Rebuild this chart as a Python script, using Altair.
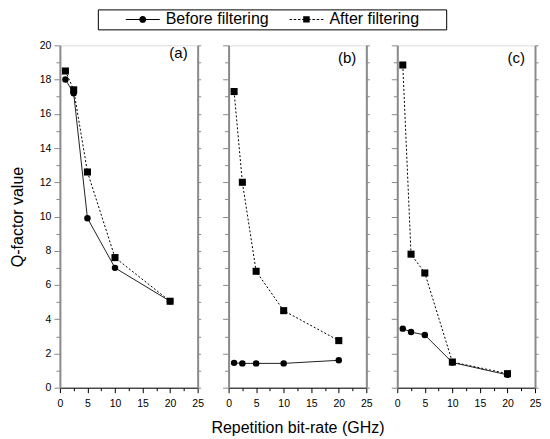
import altair as alt
import pandas as pd

# ---- data ----
rates = [1, 2.5, 5, 10, 20]
panels = ["(a)", "(b)", "(c)"]
series_names = ["Before filtering", "After filtering"]

a_before = [18.0, 17.2, 9.9, 7.0, 5.05]
a_after = [18.5, 17.4, 12.6, 7.6, 5.05]
b_before = [1.45, 1.42, 1.42, 1.42, 1.6]
b_after = [17.3, 12.0, 6.8, 4.5, 2.75]
c_before = [3.45, 3.25, 3.08, 1.47, 0.75]
c_after = [18.85, 7.8, 6.7, 1.5, 0.82]

x_ticks = [0, 2.5, 5, 7.5, 10, 12.5, 15, 17.5, 20, 22.5, 25]
y_ticks = list(range(0, 21))

rows = []
for p, bef, aft in zip(panels, [a_before, b_before, c_before], [a_after, b_after, c_after]):
    for x, v in zip(rates, bef):
        rows.append({"panel": p, "series": series_names[0], "x": x, "y": v})
    for x, v in zip(rates, aft):
        rows.append({"panel": p, "series": series_names[1], "x": x, "y": v})
df = pd.DataFrame(rows)

FONT = "Liberation Sans"
GRAY = "#8a8a8a"
PW, PH = 138, 343


def tiny(xc):
    return f"M{xc},-0.02L{xc + 0.02},-0.02L{xc + 0.02},0.02L{xc},0.02Z"


# legend glyphs (line + marker) as filled shapes, unit = 5px
before_path = ("M-3.4,-0.1L3.4,-0.1L3.4,0.1L-3.4,0.1Z"
               "M0.7,0A0.7,0.7,0,1,1,-0.7,0A0.7,0.7,0,1,1,0.7,0Z")
dash_segs = [(-3.4, -2.9), (-2.55, -2.05), (-1.7, -1.2), (-0.85, -0.6),
             (0.6, 0.85), (1.2, 1.7), (2.05, 2.55), (2.9, 3.4)]
after_path = "".join(
    f"M{a},-0.1L{b},-0.1L{b},0.1L{a},0.1Z" for a, b in dash_segs
) + "M-0.65,-0.65L0.65,-0.65L0.65,0.65L-0.65,0.65Z" + tiny(27.4)

X_AXIS_COMMON = dict(
    values=x_ticks,
    labelExpr="datum.value % 5 === 0 ? datum.label : ''",
    tickSize={"condition": {"test": "datum.value % 5 === 0", "value": 5}, "value": 3},
    grid=False,
    domainColor="black",
    tickColor="black",
    labelFont=FONT,
    labelFontSize=10.5,
    labelColor="black",
    labelPadding=6,
    labelFlush=False,
    titleFont=FONT,
    titleFontSize=16,
    titleFontWeight="normal",
    titleColor="black",
    titlePadding=10,
)


def x_enc(title):
    ax = alt.Axis(title=title if title else None, **X_AXIS_COMMON)
    return alt.X("x:Q", scale=alt.Scale(domain=[0, 25], nice=False, zero=False), axis=ax)


def y_axis(orient, labels, title):
    if orient == "left":
        tsize = {"condition": {"test": "datum.value % 2 === 0", "value": 6}, "value": 4}
    else:
        tsize = 3
    kw = dict(
        orient=orient,
        values=y_ticks,
        labels=labels,
        labelExpr="datum.value % 2 === 0 ? datum.label : ''",
        tickSize=tsize,
        grid=False,
        domainColor=GRAY,
        domainWidth=2,
        tickColor=GRAY,
        labelFont=FONT,
        labelFontSize=10.5,
        labelColor="black",
        labelPadding=3,
        titleFont=FONT,
        titleFontSize=16,
        titleFontWeight="normal",
        titleColor="black",
        titlePadding=14,
    )
    kw["title"] = title if title else None
    return alt.Axis(**kw)


def panel(key, ytitle, xtitle, with_legend):
    base = alt.Chart(df).transform_filter(alt.datum.panel == key)
    yscale = alt.Scale(domain=[0, 20], nice=False, zero=False)
    X = x_enc(xtitle)

    axis_left = base.mark_point(opacity=0).encode(
        x=X,
        y=alt.Y("y:Q", scale=yscale, axis=y_axis("left", ytitle is not None, ytitle)),
    )
    axis_right = base.mark_point(opacity=0).encode(
        x=X,
        y=alt.Y("y:Q", scale=yscale, axis=y_axis("right", False, None)),
    )
    enc = dict(x=X, y=alt.Y("y:Q", scale=yscale, axis=None))
    line_before = base.transform_filter(alt.datum.series == series_names[0]).mark_line(
        color="#222222", strokeWidth=1
    ).encode(**enc)
    line_after = base.transform_filter(alt.datum.series == series_names[1]).mark_line(
        color="black", strokeWidth=1, strokeDash=[2, 2]
    ).encode(**enc)
    pts_after = base.transform_filter(alt.datum.series == series_names[1]).mark_point(
        shape="square", filled=True, size=50, color="black", opacity=1
    ).encode(**enc)
    pts_before = base.transform_filter(alt.datum.series == series_names[0]).mark_point(
        shape="circle", filled=True, size=42, color="black", opacity=1
    ).encode(**enc)

    layers = [axis_left, axis_right, line_after, line_before, pts_after, pts_before]
    if with_legend:
        leg = base.mark_point(filled=True, color="black", opacity=0).encode(
            x=X,
            y=alt.Y("y:Q", scale=yscale, axis=None),
            shape=alt.Shape(
                "series:N",
                scale=alt.Scale(domain=series_names, range=[before_path, after_path]),
                legend=alt.Legend(
                    title="\u00a0",
                    titleOrient="left",
                    titlePadding=35,
                    titleFont=FONT,
                    titleFontSize=16,
                    orient="none",
                    legendX=38,
                    legendY=-36,
                    direction="horizontal",
                    columns=2,
                    columnPadding=20,
                    symbolSize=100,
                    symbolOpacity=1,
                    symbolFillColor="black",
                    symbolStrokeWidth=0,
                    labelOffset=15,
                    labelFont=FONT,
                    labelFontSize=16,
                    labelColor="black",
                    labelLimit=300,
                    padding=2,
                    strokeColor="black",
                    fillColor="white",
                ),
            ),
        )
        layers.append(leg)

    return alt.layer(*layers).resolve_axis(y="independent").properties(
        width=PW,
        height=PH,
        title=alt.TitleParams(
            text=key,
            anchor="end",
            frame="group",
            orient="top",
            offset=-21,
            dx=-10,
            font=FONT,
            fontSize=15,
            fontWeight="normal",
            color="black",
        ),
    )


chart = alt.hconcat(
    panel("(a)", "Q-factor value", None, True),
    panel("(b)", None, "Repetition bit-rate (GHz)", False),
    panel("(c)", None, None, False),
    spacing=31,
    bounds="flush",
).properties(
    padding={"top": 0, "left": 0, "right": 0, "bottom": 0}
).configure_view(stroke="black", strokeWidth=1).configure(background="white")

chart.save("out.html", embed_options={"renderer": "svg", "actions": False})
